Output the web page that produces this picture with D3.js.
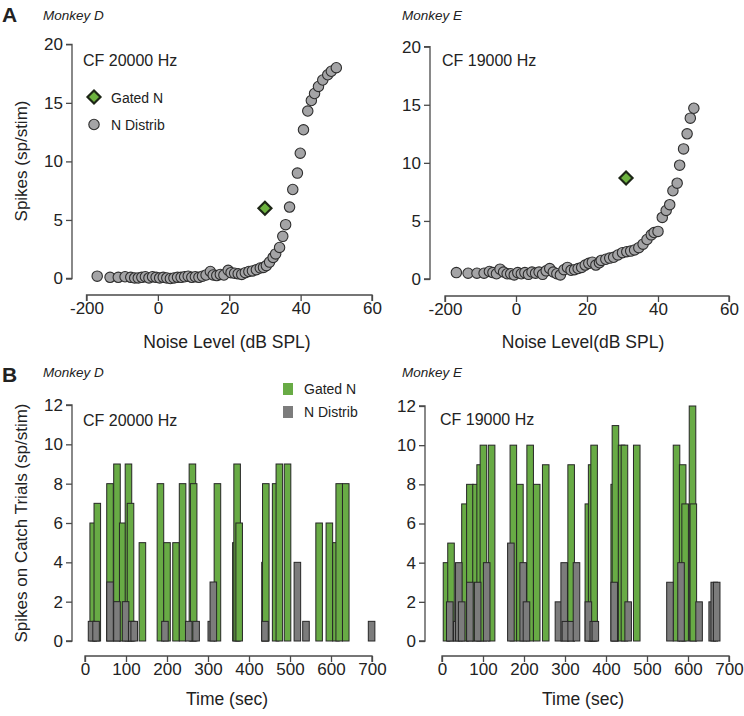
<!DOCTYPE html>
<html>
<head>
<meta charset="utf-8">
<title>Gated noise vs noise distribution</title>
<script src="https://d3js.org/d3.v7.min.js"></script>
<style>
  body { margin: 0; background: #fff; }
  svg { display: block; font-family: "Liberation Sans", Arial, sans-serif; }
  .axis path, .axis line { stroke: #4a4a4a; stroke-width: 1.3; }
  .axis text { fill: #222; font-size: 17px; font-family: "Liberation Sans", Arial, sans-serif; }
</style>
</head>
<body>
<svg width="744" height="716"></svg>
<script>
// ---- panel A : spikes vs noise level (the -200 tick is the broken-axis slot at -20)
var levelTicks = [-20, 0, 20, 40, 60];
var levelTickLabels = ["-200", "0", "20", "40", "60"];
var spikeTicksA = [0, 5, 10, 15, 20];

var levelD = [-17, -13.4, -11.1, -9.2, -7.6, -6.5, -5.5, -4.5, -3.5, -2.5, -1.5, -0.5, 0.5, 1.5, 2.5, 3.5, 4.5, 5.5, 6.5, 7.5, 8.5, 9.5, 10.5, 11.5, 12.5, 13.5,
  14.7, 15.5, 16.5, 17.5, 18.5, 19.7, 20.5, 21.5, 22.5, 23.5, 24.5, 25.5, 26.5,
  27.6, 28.7, 29.6, 30.4, 31.3, 32.3, 33.0, 34.1, 35.0, 35.8, 36.9, 37.8, 39.1, 39.9, 40.8, 42.0, 43.0, 43.9, 45.0, 46.2, 47.6, 48.6, 50.0];
var spikesD = [0.2, 0.1, 0.1, 0.15, 0.1, 0.05, 0.05, 0.1, 0.15, 0.05, 0.15, 0.1, 0.05, 0.1, 0.05, 0.0, 0.05, 0.1, 0.1, 0.15, 0.2, 0.1, 0.15, 0.1, 0.2, 0.3,
  0.6, 0.3, 0.25, 0.35, 0.3, 0.7, 0.5, 0.45, 0.4, 0.35, 0.5, 0.6, 0.65,
  0.75, 0.9, 0.95, 1.1, 1.4, 1.8, 2.1, 2.65, 3.6, 4.6, 6.1, 7.6, 9.0, 10.7, 12.7, 14.3, 15.2, 15.8, 16.4, 16.95, 17.4, 17.7, 18.0];
var gatedD = [30, 6.0];

var levelE = [-16.8, -13.5, -11, -9, -7.5, -6.5, -5.5, -4.5, -3.5, -2.5, -1.5, -0.5, 0.5, 1.5, 2.5, 3.5, 4.5, 5.5, 6.5, 7.5, 8.5, 9.5, 10.5, 11.5, 12.5, 13.5,
  14.5, 15.5, 16.5, 17.5, 18.5, 19.5, 20.5, 21.5, 22.5, 23.5,
  24.0, 25.3, 26.4, 27.5, 28.7, 30.0, 31.2, 32.3, 33.4, 34.6, 35.8, 36.9, 38.1, 38.9, 40.0, 41.2, 42.3, 43.3, 44.2, 45.4, 46.1, 47.2, 48.2, 49.1, 50.1];
var spikesE = [0.55, 0.5, 0.5, 0.5, 0.65, 0.55, 0.45, 0.85, 0.6, 0.45, 0.45, 0.35, 0.55, 0.45, 0.55, 0.4, 0.6, 0.5, 0.6, 0.4, 0.7, 0.9, 0.6, 0.45, 0.35, 0.8,
  1.0, 0.75, 0.8, 0.9, 1.0, 1.2, 1.35, 1.45, 1.2, 1.4,
  1.6, 1.7, 1.8, 1.87, 2.07, 2.27, 2.35, 2.4, 2.5, 2.7, 3.0, 3.4, 3.8, 4.0, 4.1, 5.3, 5.9, 6.4, 7.6, 8.25, 9.8, 11.2, 12.5, 13.85, 14.7];
var gatedE = [31, 8.7];

// ---- panel B : spikes on catch trials over time, [time sec, spikes]
var timeTicks = [0, 100, 200, 300, 400, 500, 600, 700];
var spikeTicksB = [0, 2, 4, 6, 8, 10, 12];
var barWidthSec = 16;

var gatedBarsD = [[12,6],[22,7],[53,8],[70,9],[84,6],[98,9],[103,7],[132,5],[176,8],[192,5],[214,5],[230,8],[254,9],[257,8],
  [315,8],[360,5],[363,9],[368,6],[431,4],[433,8],[457,8],[466,9],[486,9],[563,6],[588,6],[604,5],[612,8],[628,8]];
var distribBarsD = [[8,1],[19,1],[53,3],[70,2],[91,2],[106,1],[112,1],[187,1],[245,1],[263,1],[300,1],[305,3],[431,1],[510,4],[531,1],[691,1]];

var gatedBarsE = [[3,4],[14,5],[48,7],[60,8],[75,8],[85,9],[93,10],[113,10],[166,10],[182,8],[207,10],[223,8],[245,9],[307,9],
  [349,7],[357,9],[363,10],[412,8],[415,11],[430,10],[437,10],[467,10],[564,10],[579,9],[585,7],[603,12],[605,7]];
var distribBarsE = [[11,2],[28,1],[33,4],[40,2],[60,3],[79,3],[101,4],[160,5],[190,4],[198,2],[276,2],[290,4],[293,1],[307,1],[320,4],
  [349,2],[361,1],[366,1],[412,3],[446,2],[548,3],[575,4],[619,2],[651,2],[656,3],[662,3]];

var green = "#68ab45", grayBar = "#7c7c7c", grayDot = "#a4a4a6", ink = "#222";

var svg = d3.select("svg");

function label(x, y, txt, size) {
  return svg.append("text").attr("x", x).attr("y", y).attr("fill", ink)
    .attr("font-size", size).text(txt);
}

function diamond(g, cx, cy, r) {
  g.append("path")
    .attr("d", "M" + cx + "," + (cy - r) + "L" + (cx + r) + "," + cy + "L" + cx + "," + (cy + r) + "L" + (cx - r) + "," + cy + "Z")
    .attr("fill", "#6db33f").attr("stroke", "#1d2616").attr("stroke-width", 2.2);
}

function scatterPanel(o) {
  var x = d3.scaleLinear().domain([-20, 60]).range([o.x0, o.x1]);
  var y = d3.scaleLinear().domain([0, 20]).range([o.y0, o.y1]);

  svg.append("g").attr("class", "axis")
    .attr("transform", "translate(0," + o.xAxisY + ")")
    .call(d3.axisBottom(x).tickValues(levelTicks).tickSize(6).tickPadding(1)
      .tickFormat(function(d, i) { return levelTickLabels[i]; }))
    .call(function(g) { g.select(".domain").attr("d", "M" + o.x0 + ",6V0H" + o.x1 + "V6"); });

  svg.append("g").attr("class", "axis")
    .attr("transform", "translate(" + o.yAxisX + ",0)")
    .call(d3.axisLeft(y).tickValues(spikeTicksA).tickSize(6).tickPadding(3))
    .call(function(g) { g.select(".domain").attr("d", "M-6," + o.y1 + "H0V" + o.y0 + "H-6"); });

  var pts = o.level.map(function(d, i) { return { level: d, spikes: o.spikes[i] }; });
  svg.append("g").selectAll("circle").data(pts).enter().append("circle")
    .attr("cx", function(d) { return x(d.level); })
    .attr("cy", function(d) { return y(d.spikes); })
    .attr("r", 5.2)
    .attr("fill", grayDot).attr("stroke", "#2e2e2e").attr("stroke-width", 1.1);

  diamond(svg, x(o.gated[0]), y(o.gated[1]), 6.5);

  label(o.titleX, o.xTitleY, o.xTitle, "17.5px").attr("text-anchor", "middle");
}

function barPanel(o) {
  var x = d3.scaleLinear().domain([0, 700]).range([o.x0, o.x1]);
  var y = d3.scaleLinear().domain([0, 12]).range([o.y0, o.y1]);
  var w = x(barWidthSec) - x(0);

  svg.append("g").attr("class", "axis")
    .attr("transform", "translate(0," + o.xAxisY + ")")
    .call(d3.axisBottom(x).tickValues(timeTicks).tickSize(6).tickPadding(1))
    .call(function(g) { g.select(".domain").attr("d", "M" + o.x0 + ",6V0H" + o.x1 + "V6"); });

  svg.append("g").attr("class", "axis")
    .attr("transform", "translate(" + o.yAxisX + ",0)")
    .call(d3.axisLeft(y).tickValues(spikeTicksB).tickSize(6).tickPadding(3))
    .call(function(g) { g.select(".domain").attr("d", "M-6," + o.y1 + "H0V" + o.y0 + "H-6"); });

  [[o.gated, green], [o.distrib, grayBar]].forEach(function(s) {
    svg.append("g").selectAll("rect").data(s[0]).enter().append("rect")
      .attr("x", function(d) { return x(d[0]); })
      .attr("y", function(d) { return y(d[1]); })
      .attr("width", w)
      .attr("height", function(d) { return y(0) - y(d[1]); })
      .attr("fill", s[1]).attr("stroke", "#262626").attr("stroke-width", 1);
  });

  label(o.titleX, 705, "Time (sec)", "17.5px").attr("text-anchor", "middle");
}

// panel A
scatterPanel({ x0: 86.5, x1: 372, y0: 278.5, y1: 44.3, xAxisY: 295, yAxisX: 72,
  level: levelD, spikes: spikesD, gated: gatedD, titleX: 227, xTitleY: 348, xTitle: "Noise Level (dB SPL)" });
scatterPanel({ x0: 445, x1: 729, y0: 279, y1: 46.7, xAxisY: 296, yAxisX: 430,
  level: levelE, spikes: spikesE, gated: gatedE, titleX: 583, xTitleY: 348, xTitle: "Noise Level(dB SPL)" });

// panel B
barPanel({ x0: 85, x1: 372, y0: 641, y1: 405, xAxisY: 656, yAxisX: 72,
  gated: gatedBarsD, distrib: distribBarsD, titleX: 227 });
barPanel({ x0: 442, x1: 729, y0: 641, y1: 406, xAxisY: 656, yAxisX: 425,
  gated: gatedBarsE, distrib: distribBarsE, titleX: 583 });

// panel letters and headers
label(2, 22, "A", "21px").attr("font-weight", "bold");
label(2, 382, "B", "21px").attr("font-weight", "bold");
label(43, 20, "Monkey D", "13.5px").attr("font-style", "italic");
label(402, 20, "Monkey E", "13.5px").attr("font-style", "italic");
label(43, 377, "Monkey D", "13.5px").attr("font-style", "italic");
label(402, 377, "Monkey E", "13.5px").attr("font-style", "italic");
label(83, 66, "CF 20000 Hz", "16px");
label(442, 66, "CF 19000 Hz", "16px");
label(83, 426, "CF 20000 Hz", "16px");
label(440, 425, "CF 19000 Hz", "16px");

// y titles
label(0, 0, "Spikes (sp/stim)", "17px")
  .attr("text-anchor", "middle").attr("transform", "translate(27,161) rotate(-90)");
label(0, 0, "Spikes on Catch Trials (sp/stim)", "17px")
  .attr("text-anchor", "middle").attr("transform", "translate(27,523) rotate(-90)");

// legend A
diamond(svg, 94, 97, 6.5);
svg.append("circle").attr("cx", 94).attr("cy", 124.5).attr("r", 5.2)
  .attr("fill", grayDot).attr("stroke", "#2e2e2e").attr("stroke-width", 1.1);
label(111, 102.5, "Gated N", "14px");
label(111, 130, "N Distrib", "14px");

// legend B
svg.append("rect").attr("x", 283).attr("y", 383).attr("width", 10).attr("height", 12).attr("fill", green);
svg.append("rect").attr("x", 283).attr("y", 406).attr("width", 10).attr("height", 12).attr("fill", grayBar);
label(304, 394, "Gated N", "14px");
label(304, 417, "N Distrib", "14px");
</script>
</body>
</html>
